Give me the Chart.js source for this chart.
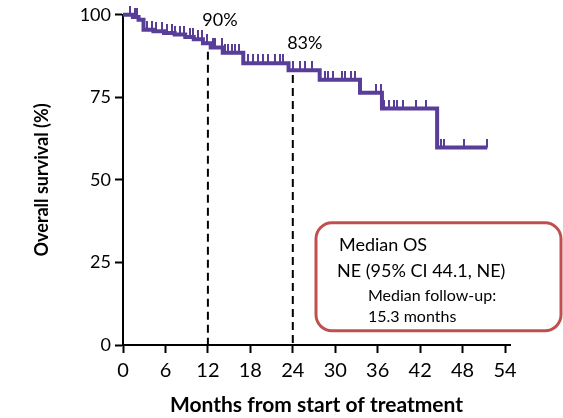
<!DOCTYPE html>
<html>
<head>
<meta charset="utf-8">
<script src="https://cdn.jsdelivr.net/npm/chart.js@4/dist/chart.umd.min.js"></script>
<style>
  html, body { margin: 0; padding: 0; background: #fff; }
  #wrap { width: 563px; height: 418px; }
</style>
</head>
<body>
<div id="wrap"><canvas id="km"></canvas></div>
<script>
// Kaplan-Meier steps (months, % surviving after each event)
const eventMonths = [0, 1.4, 2.2, 2.9, 4.3, 5.8, 7.3, 8.8, 10.0, 11.3, 12.4, 14.1, 17.0, 23.4, 27.8, 33.5, 36.6, 44.4, 51.5];
const survival    = [100, 99.3, 98.5, 95.5, 95.0, 94.5, 94.0, 93.3, 92.6, 91.4, 90.1, 88.5, 85.3, 83.2, 80.3, 76.4, 71.6, 59.8, 59.8];

// censored patients (months)
const censorMonths = [1.0, 1.7, 2.0, 3.4, 4.1, 4.7, 5.5, 6.2, 6.9, 7.4, 8.1, 8.6, 9.5, 9.9, 10.6, 11.2, 11.9,
  12.7, 13.0, 14.0, 14.4, 14.8, 15.4, 15.8, 16.4, 17.7, 18.4, 19.1, 19.8, 20.5, 21.5, 22.2, 22.6,
  24.0, 25.0, 25.7, 26.7, 28.6, 29.0, 29.7, 31.0, 31.4, 32.2, 32.8, 35.8, 36.5, 36.9, 37.6, 38.3,
  38.7, 39.6, 41.4, 42.8, 45.0, 45.4, 48.2, 51.5];

// landmark estimates
const landmarkMonths = [12, 24];
const landmarkValues = [90, 83];
const landmarkLabels = ['90%', '83%'];

const xTicks = [0, 6, 12, 18, 24, 30, 36, 42, 48, 54];
const yTicks = [0, 25, 50, 75, 100];

const boxLines = ['Median OS', 'NE (95% CI 44.1, NE)', 'Median follow-up:', '15.3 months'];

const purple = '#583d99';
const fontFamily = 'Lato, "Open Sans", sans-serif';

// survival value at a given time from the step function
function survivalAt(t) {
    let s = survival[0];
    for (let i = 0; i < eventMonths.length; i++) {
        if (eventMonths[i] <= t) s = survival[i];
    }
    return s;
}

// censor mark: small vertical tick drawn upward from the point
const censorMark = document.createElement('canvas');
censorMark.width = 2;
censorMark.height = 18;
const cm = censorMark.getContext('2d');
cm.fillStyle = purple;
cm.fillRect(0, 0, 2, 9);

const curve = eventMonths.map((m, i) => ({ x: m, y: survival[i] }));
const censored = censorMonths.map(m => ({ x: m, y: survivalAt(m) }));

// dashed landmark lines, labels and the median box
const extras = {
    id: 'extras',
    afterDatasetsDraw(chart) {
        const { ctx, scales: { x, y }, chartArea } = chart;
        ctx.save();
        ctx.strokeStyle = '#000';
        ctx.lineWidth = 2;
        ctx.setLineDash([8, 5]);
        landmarkMonths.forEach((m, i) => {
            const px = x.getPixelForValue(m);
            ctx.beginPath();
            ctx.moveTo(px, y.getPixelForValue(landmarkValues[i]) + 4);
            ctx.lineTo(px, y.getPixelForValue(0));
            ctx.stroke();
        });
        ctx.setLineDash([]);
        ctx.fillStyle = '#000';
        ctx.font = '18px ' + fontFamily;
        ctx.textAlign = 'center';
        ctx.textBaseline = 'middle';
        landmarkMonths.forEach((m, i) => {
            ctx.fillText(landmarkLabels[i], x.getPixelForValue(m) + 12, y.getPixelForValue(landmarkValues[i]) - 28);
        });

        // median box
        const bx = chartArea.left + 193, by = chartArea.top + 208, bw = 245, bh = 108;
        ctx.strokeStyle = '#c0504d';
        ctx.lineWidth = 3;
        ctx.beginPath();
        ctx.roundRect(bx, by, bw, bh, 16);
        ctx.fillStyle = '#fff';
        ctx.fill();
        ctx.stroke();
        ctx.fillStyle = '#000';
        ctx.textAlign = 'left';
        ctx.font = '18px ' + fontFamily;
        ctx.fillText(boxLines[0], bx + 23, by + 22);
        ctx.fillText(boxLines[1], bx + 21, by + 48);
        ctx.font = '16px ' + fontFamily;
        ctx.fillText(boxLines[2], bx + 52, by + 73);
        ctx.fillText(boxLines[3], bx + 52, by + 94);
        ctx.restore();
    }
};

new Chart(document.getElementById('km'), {
    type: 'scatter',
    data: {
        datasets: [
            {
                data: curve,
                showLine: true,
                stepped: true,
                borderColor: purple,
                borderWidth: 4,
                pointRadius: 0,
                clip: 10
            },
            {
                data: censored,
                showLine: false,
                pointStyle: censorMark,
                clip: 12
            }
        ]
    },
    options: {
        responsive: true,
        maintainAspectRatio: false,
        animation: false,
        layout: { padding: { top: 14, right: 53, left: 0, bottom: 0 } },
        plugins: { legend: { display: false }, tooltip: { enabled: false } },
        scales: {
            x: {
                type: 'linear',
                min: 0,
                max: 54.7,
                afterFit: s => { s.height = 73; },
                afterBuildTicks: s => { s.ticks = xTicks.map(v => ({ value: v })); },
                ticks: { color: '#000', font: { family: fontFamily, size: 20 }, padding: 6, maxRotation: 0 },
                grid: { drawOnChartArea: false, tickLength: 8, tickWidth: 2, tickColor: '#000' },
                border: { color: '#000', width: 2 },
                title: {
                    display: true,
                    text: 'Months from start of treatment',
                    color: '#000',
                    font: { family: fontFamily, size: 21, weight: 'bold' },
                    padding: { top: 0, bottom: 0 }
                }
            },
            y: {
                min: 0,
                max: 100,
                afterFit: s => { s.width = 123; },
                afterBuildTicks: s => { s.ticks = yTicks.map(v => ({ value: v })); },
                ticks: { color: '#000', font: { family: fontFamily, size: 18 }, padding: 4 },
                grid: { drawOnChartArea: false, tickLength: 8, tickWidth: 2, tickColor: '#000' },
                border: { color: '#000', width: 2 },
                title: {
                    display: true,
                    text: 'Overall survival (%)',
                    color: '#000',
                    font: { family: fontFamily, size: 18, weight: 'bold' },
                    padding: { top: 31, bottom: 0 }
                }
            }
        }
    },
    plugins: [extras]
});
</script>
</body>
</html>
